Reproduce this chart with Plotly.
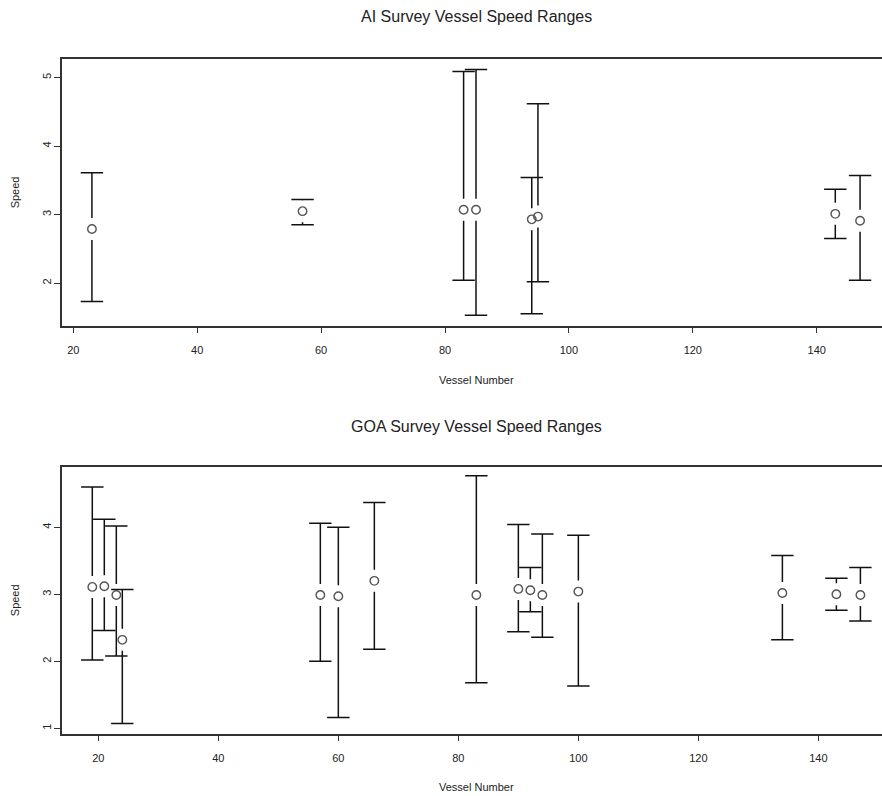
import plotly.graph_objects as go

# ---- data: AI survey ----
ai_vessel = [23, 57, 83, 85, 94, 95, 143, 147]
ai_mean = [2.79, 3.05, 3.07, 3.07, 2.93, 2.97, 3.01, 2.91]
ai_low = [1.73, 2.85, 2.04, 1.53, 1.55, 2.02, 2.65, 2.04]
ai_high = [3.61, 3.22, 5.09, 5.12, 3.54, 4.62, 3.37, 3.57]

# ---- data: GOA survey ----
goa_vessel = [19, 21, 23, 24, 57, 60, 66, 83, 90, 92, 94, 100, 134, 143, 147]
goa_mean = [3.11, 3.12, 2.99, 2.32, 2.99, 2.97, 3.20, 2.99, 3.08, 3.06, 2.99, 3.04, 3.02, 3.00, 2.99]
goa_low = [2.02, 2.46, 2.08, 1.07, 2.00, 1.16, 2.18, 1.68, 2.44, 2.74, 2.36, 1.63, 2.32, 2.76, 2.60]
goa_high = [4.60, 4.12, 4.02, 3.07, 4.06, 4.00, 4.37, 4.77, 4.04, 3.40, 3.90, 3.88, 3.58, 3.24, 3.40]

x_ticks = [20, 40, 60, 80, 100, 120, 140]

W, H = 882, 796
LEFT = 61.7
panels = [
    dict(vessel=ai_vessel, mean=ai_mean, low=ai_low, high=ai_high,
         title="AI Survey Vessel Speed Ranges", top=59.0, bottom=325.7,
         xr=[18.12, 150.54], yr=[1.376, 5.273], yt=[2, 3, 4, 5],
         title_y=17, xlab_y=380),
    dict(vessel=goa_vessel, mean=goa_mean, low=goa_low, high=goa_high,
         title="GOA Survey Vessel Speed Ranges", top=466.7, bottom=733.7,
         xr=[13.9, 150.6], yr=[0.919, 4.904], yt=[1, 2, 3, 4],
         title_y=426, xlab_y=787),
]

FONT = "Liberation Sans, Arial, sans-serif"
TXT = "#222"
GAP_PX = 11

fig = go.Figure()
layout = dict(width=W, height=H, margin=dict(l=0, r=0, t=0, b=0),
              paper_bgcolor="white", plot_bgcolor="white", showlegend=False,
              annotations=[])

for i, p in enumerate(panels, start=1):
    xa = "x" if i == 1 else f"x{i}"
    ya = "y" if i == 1 else f"y{i}"
    ppu = (p["bottom"] - p["top"]) / (p["yr"][1] - p["yr"][0])
    gap = GAP_PX / ppu
    xs, ys = [], []
    for v, m, lo, hi in zip(p["vessel"], p["mean"], p["low"], p["high"]):
        xs += [v, v, None, v, v, None]
        ys += [hi, m + gap, None, m - gap, lo, None]
    fig.add_trace(go.Scatter(x=xs, y=ys, mode="lines", xaxis=xa, yaxis=ya,
                             line=dict(color="#111", width=1.5), hoverinfo="skip"))
    fig.add_trace(go.Scatter(x=p["vessel"] + p["vessel"], y=p["low"] + p["high"],
                             mode="markers", xaxis=xa, yaxis=ya,
                             marker=dict(symbol="line-ew", size=16,
                                         line=dict(color="#111", width=1.5))))
    fig.add_trace(go.Scatter(x=p["vessel"], y=p["mean"], mode="markers",
                             xaxis=xa, yaxis=ya,
                             marker=dict(symbol="circle-open", size=8.5,
                                         color="#555", line=dict(width=1.4))))
    ydom = [1 - p["bottom"] / H, 1 - p["top"] / H]
    xkey = "xaxis" if i == 1 else f"xaxis{i}"
    ykey = "yaxis" if i == 1 else f"yaxis{i}"
    layout[xkey] = dict(domain=[LEFT / W, 1], range=p["xr"], anchor=ya,
                        tickvals=x_ticks, ticklabelstandoff=7,
                        ticks="outside", ticklen=6, tickcolor="#333", tickwidth=1.3,
                        showline=True, mirror=True, linecolor="#333", linewidth=1.5,
                        showgrid=False, zeroline=False,
                        tickfont=dict(family=FONT, size=11, color=TXT))
    layout[ykey] = dict(domain=ydom, range=p["yr"], anchor=xa,
                        tickvals=p["yt"], tickangle=-90, ticklabelstandoff=-1,
                        ticks="outside", ticklen=6, tickcolor="#333", tickwidth=1.3,
                        showline=True, mirror=False, linecolor="#333", linewidth=1.5,
                        showgrid=False, zeroline=False,
                        tickfont=dict(family=FONT, size=11, color=TXT))
    layout["annotations"] += [
        dict(text=p["title"], x=476 / W, y=1 - p["title_y"] / H, xref="paper", yref="paper",
             showarrow=False, xanchor="center", yanchor="middle",
             font=dict(family=FONT, size=16, color=TXT)),
        dict(text="Vessel Number", x=476 / W, y=1 - p["xlab_y"] / H, xref="paper", yref="paper",
             showarrow=False, xanchor="center", yanchor="middle",
             font=dict(family=FONT, size=11, color=TXT)),
        dict(text="Speed", x=15 / W, y=1 - (p["top"] + p["bottom"]) / 2 / H,
             xref="paper", yref="paper", textangle=-90,
             showarrow=False, xanchor="center", yanchor="middle",
             font=dict(family=FONT, size=11, color=TXT)),
    ]

fig.update_layout(**layout)
fig.write_html("out.html")
